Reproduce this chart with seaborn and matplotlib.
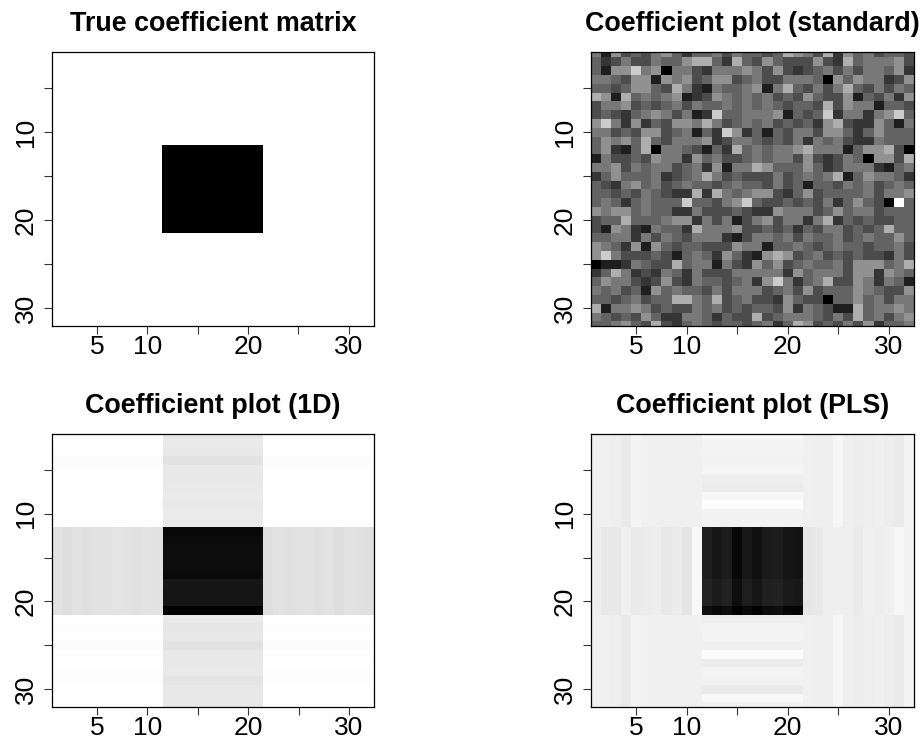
import numpy as np
import seaborn as sns
import matplotlib.pyplot as plt

plt.rcParams['font.family'] = ['Liberation Sans', 'DejaVu Sans']

N = 32
BAND = np.arange(11, 21)  # rows / columns 12..21 (0-based)

titles = ['True coefficient matrix', 'Coefficient plot (standard)',
          'Coefficient plot (1D)', 'Coefficient plot (PLS)']

# true matrix: 1 inside the block, 0 elsewhere
true_inside = 1.0
true_outside = 0.0

# "standard" estimate, grey level per cell (0 = black, 9 = white)
standard_rows = [
    "51634356424453544347653726453443",
    "42353354467742743643336327455563",
    "41668560553255565363234535355462",
    "55436616563466345335554064655236",
    "44346643752154456157435357435354",
    "76174545612365454534364336143526",
    "35563434535445454543443736551443",
    "34324565351284455561434825525684",
    "68526243665753454534342673226415",
    "55343663451428624143553664246444",
    "46564743555623554343525453225444",
    "46214705543142745455675551466730",
    "15334365526453345455363235406637",
    "55635455345261557644464235552145",
    "24644452345753433353454571465542",
    "43256453454434544353414435453454",
    "44343543227275456632463444453556",
    "45424544484435684334343524643094",
    "65664544225333432265553464553444",
    "34474445662535135635525724343344",
    "31652154427555633434243553434744",
    "44552535435552135545354453454464",
    "65426164344333655144543454434453",
    "68533343145426421676345343433253",
    "01125433745515326463454453666457",
    "24752325425333555552645553662654",
    "46553236325443452685245733652541",
    "54534164544353555345363444654336",
    "44345344775473453326433044645355",
    "71556534335453434436254311745565",
    "54343642255424337345554353745356",
    "44564373245434434524763435362445",
]
# brightness of each grey level 0..9
standard_levels = [0.0, 0.12, 0.21, 0.30, 0.39, 0.47, 0.57, 0.68, 0.80, 1.0]

# 1D estimate, brightness 0-255
d1_outer_rows = [253, 255, 254, 251, 255, 255, 255, 255, 255, 255, 255,
                 0, 0, 0, 0, 0, 0, 0, 0, 0, 0,
                 254, 253, 254, 252, 254, 255, 253, 253, 255, 254, 254]
d1_band_rows = [230, 234, 232, 226, 233, 232, 233, 235, 232, 235, 234,
                8, 11, 12, 12, 12, 10, 22, 20, 21, 2,
                234, 230, 232, 226, 232, 232, 233, 228, 232, 232, 232]
d1_band_cols = [226, 222, 226, 224, 226, 226, 228, 227, 224, 227, 226,
                0, 0, 0, 0, 0, 0, 0, 0, 0, 0,
                222, 226, 224, 225, 226, 224, 227, 222, 226, 225, 224]

# PLS estimate, brightness 0-255
pls_outer_cols = [240, 240, 238, 234, 244, 240, 240, 240, 240, 240, 240,
                  0, 0, 0, 0, 0, 0, 0, 0, 0, 0,
                  240, 239, 239, 246, 239, 237, 238, 240, 237, 234, 244]
pls_band_rows = [250, 244, 243, 242, 245, 238, 235, 247, 253, 242, 242,
                 0, 0, 0, 0, 0, 0, 6, 6, 6, -14,
                 238, 243, 244, 240, 252, 236, 243, 242, 234, 248, 242]
pls_band_cols = [238, 232, 232, 240, 234, 236, 238, 232, 236, 229, 248,
                 30, 22, 28, 8, 24, 16, 26, 28, 20, 18,
                 230, 232, 238, 239, 239, 234, 240, 238, 240, 246, 242]


def cross(outer, band_rows, band_cols, center):
    m = np.array(outer, dtype=float)
    br = np.array(band_rows, dtype=float)
    bc = np.array(band_cols, dtype=float)
    out = np.delete(np.arange(N), BAND)
    m[np.ix_(out, BAND)] = br[out][:, None]
    m[np.ix_(BAND, out)] = bc[out][None, :]
    m[np.ix_(BAND, BAND)] = center
    return np.clip(m, 0, 255) / 255


true_mat = np.full((N, N), 1 - true_outside)
true_mat[np.ix_(BAND, BAND)] = 1 - true_inside

std_mat = np.array([[standard_levels[int(c)] for c in r] for r in standard_rows])

d1_mat = cross(np.repeat(np.array(d1_outer_rows)[:, None], N, axis=1),
               d1_band_rows, d1_band_cols,
               np.array(d1_band_rows)[BAND][:, None])

pls_mat = cross(np.repeat(np.array(pls_outer_cols)[None, :], N, axis=0),
                pls_band_rows, pls_band_cols,
                np.array(pls_band_cols)[BAND][None, :] + np.array(pls_band_rows)[BAND][:, None])

mats = [true_mat, std_mat, d1_mat, pls_mat]

fig = plt.figure(figsize=(9.21, 7.42), dpi=100)
W, H = 921, 742
boxes = [(51.7, 52.3, 374.0, 325.7), (590.7, 52.3, 914.0, 325.7),
         (51.7, 433.7, 374.3, 706.7), (590.7, 433.7, 914.0, 706.7)]

for title, mat, (x0, y0, x1, y1) in zip(titles, mats, boxes):
    ax = fig.add_axes([x0 / W, 1 - y1 / H, (x1 - x0) / W, (y1 - y0) / H])
    sns.heatmap(mat, ax=ax, cmap='gray', vmin=0, vmax=1, cbar=False,
                xticklabels=False, yticklabels=False, rasterized=True)
    ax.set_xlim(0, N)
    ax.set_ylim(31.48, 0.41)
    ticks = np.array([5, 10, 15, 20, 25, 30]) - 0.5
    ax.set_xticks(ticks)
    ax.set_xticklabels(['5', '10', '', '20', '', '30'])
    ax.set_yticks(ticks)
    ax.set_yticklabels(['', '10', '', '20', '', '30'], rotation=90, va='center')
    ax.tick_params(direction='out', length=5.8, width=0.8, color='#333333',
                   labelsize=19, pad=1)
    ax.tick_params(axis='y', pad=4)
    for s in ax.spines.values():
        s.set_visible(True)
        s.set_linewidth(0.9)
        s.set_color('black')
    ax.set_title(title, fontsize=19.4, fontweight='bold', pad=15)

fig.savefig('out.png', dpi=100)
